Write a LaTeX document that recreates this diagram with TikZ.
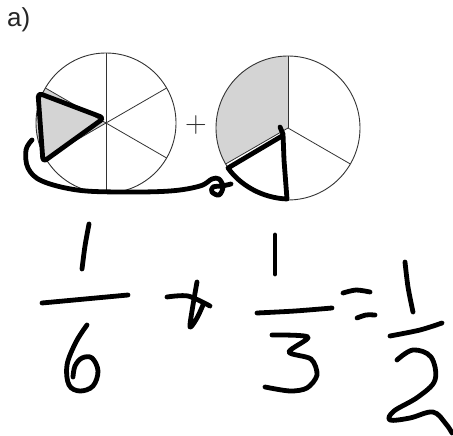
\documentclass[tikz,border=0pt]{standalone}
\usepackage{fontspec}
\newfontfamily\labelfont{Liberation Sans}
\begin{document}
\begin{tikzpicture}[x=1pt,y=-1pt,
  hand/.style={line width=4.8pt,line cap=round,line join=round,black},
  rim/.style={line width=0.9pt,black!80},
  spoke/.style={line width=0.8pt,black!80},
  shade/.style={fill=black!17}]
\useasboundingbox (0,0) rectangle (453,436);
% label
\node[anchor=base west,inner sep=0pt,font=\labelfont\fontsize{26}{26}\selectfont,text=black!85] (lab) at (7,27) {a)};
% left circle (sixths)
\coordinate (L) at (106,123);
\fill[shade] (L) -- ++(150:70) arc[start angle=150,end angle=210,radius=70] -- cycle;
\foreach \a in {30,90,...,330} \draw[spoke] (L) -- ++(\a:70);
\draw[rim] (L) circle[radius=70];
% plus sign
\node[inner sep=0pt,font=\fontsize{30}{30}\selectfont,text=black!80] (plus) at (196,125) {+};
% right circle (thirds)
\coordinate (R) at (288,128);
\fill[shade] (R) -- ++(150:72) arc[start angle=150,end angle=270,radius=72] -- cycle;
\foreach \a in {30,150,270} \draw[spoke] (R) -- ++(\a:72);
\draw[rim] (R) circle[radius=72];
% hand-drawn triangle on left circle
\draw[hand,rounded corners=4pt] (38,93) -- (104,118) -- (43,162) -- cycle;
% connecting loop
\draw[hand] plot[smooth,tension=0.6] coordinates {(32,140) (26,150) (28,168) (42,181) (77,190) (120,192) (170,191) (200,186) (212,179) (219,179) (223,187) (219,195) (212,192) (213,187) (222,186) (231,184)};
% hand-drawn triangle on right circle
\draw[hand] (280,127) -- (283,134) -- (284,160) -- (287,199) .. controls (262,198) and (240,185) .. (228,168) -- (282,136);
% handwritten 1/6
\draw[hand] plot[smooth] coordinates {(89,224) (85,246) (82,269)};
\draw[hand] plot[smooth] coordinates {(42,303) (85,299) (128,295)};
\draw[hand] plot[smooth,tension=0.6] coordinates {(87,325) (76,342) (67,365) (69,385) (80,391) (93,386) (98,371) (92,358) (82,358) (75,366) (73,377)};
% handwritten plus
\draw[hand] plot[smooth] coordinates {(167,297) (188,296) (210,306)};
\draw[hand] plot[smooth,tension=0.5] coordinates {(197,282) (193,305) (190,327) (197,318) (203,305)};
% handwritten 1/3
\draw[hand] (275,235) -- (275,274);
\draw[hand] plot[smooth] coordinates {(257,313) (295,311) (332,308)};
\draw[hand] plot[smooth,tension=0.5] coordinates {(272,335) (308,337) (289,352) (311,359) (317,375) (307,388) (290,391) (265,387)};
% handwritten equals
\draw[hand] plot[smooth] coordinates {(343,293) (356,290) (370,292)};
\draw[hand] plot[smooth] coordinates {(357,318) (366,315) (375,315)};
% handwritten 1/2
\draw[hand] plot[smooth] coordinates {(405,262) (408,287) (413,312)};
\draw[hand] plot[smooth] coordinates {(390,336) (420,330) (442,323)};
\draw[hand] plot[smooth,tension=0.6] coordinates {(397,360) (413,350) (431,357) (435,380) (418,397) (394,411) (390,420) (410,418) (433,412) (446,424) (452,433)};
\end{tikzpicture}
\end{document}
